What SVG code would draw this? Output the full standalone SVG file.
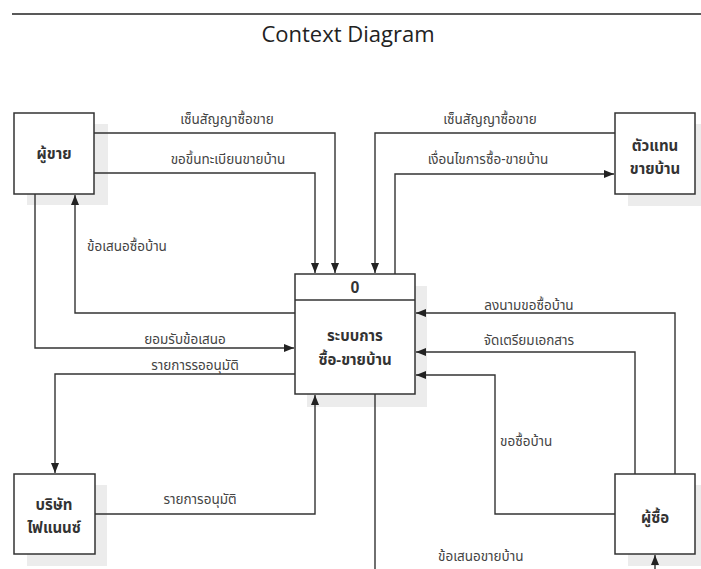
<svg xmlns="http://www.w3.org/2000/svg" width="701" height="569" viewBox="0 0 701 569">
<defs>
<marker id="arr" markerUnits="userSpaceOnUse" markerWidth="11" markerHeight="9" refX="10" refY="4" orient="auto">
<path d="M0,0 L10,4 L0,8 z" fill="#222"/>
</marker>
<style>
.shadow{fill:#ececec;stroke:none}
.box{fill:#fff;stroke:#333;stroke-width:1.5}
.conn{fill:none;stroke:#333;stroke-width:1.4}
.lbl{font-family:"Noto Sans Thai","Tahoma","Liberation Sans",sans-serif;font-size:13.5px;fill:#444}
.nlbl{font-family:"Noto Sans Thai","Tahoma","Liberation Sans",sans-serif;font-size:15px;font-weight:bold;fill:#333;text-anchor:middle}
.title{font-family:"Open Sans","Liberation Sans",sans-serif;font-size:22px;fill:#222;text-anchor:middle}
</style>
</defs>
<rect width="701" height="569" fill="#fff"/>
<line x1="12" y1="14" x2="701" y2="14" stroke="#222" stroke-width="1.5"/>
<text class="title" x="348" y="42">Context Diagram</text>

<g id="seller">
<rect class="shadow" x="27" y="124" width="81" height="81"/>
<rect class="box" x="14" y="113" width="80" height="81"/>
<text class="nlbl" x="54" y="159">ผู้ขาย</text>
</g>

<g id="agent">
<rect class="shadow" x="628" y="124" width="73" height="82"/>
<rect class="box" x="615" y="113" width="80" height="81"/>
<text class="nlbl" x="655" y="151">ตัวแทน</text>
<text class="nlbl" x="655" y="174">ขายบ้าน</text>
</g>

<g id="process">
<rect class="shadow" x="307" y="286" width="120" height="121"/>
<rect class="box" x="295" y="274" width="120" height="120"/>
<line x1="295" y1="300" x2="415" y2="300" stroke="#333" stroke-width="1.5"/>
<text class="nlbl" x="355" y="293" style="font-family:'Liberation Sans',sans-serif;font-size:16px">0</text>
<text class="nlbl" x="355" y="341">ระบบการ</text>
<text class="nlbl" x="355" y="365">ซื้อ-ขายบ้าน</text>
</g>

<g id="finance">
<rect class="shadow" x="27" y="485" width="80" height="81"/>
<rect class="box" x="14" y="474" width="81" height="80"/>
<text class="nlbl" x="54" y="510">บริษัท</text>
<text class="nlbl" x="54" y="533">ไฟแนนซ์</text>
</g>

<g id="buyer">
<rect class="shadow" x="628" y="485" width="73" height="81"/>
<rect class="box" x="615" y="474" width="80" height="80"/>
<text class="nlbl" x="655" y="523">ผู้ซื้อ</text>
</g>

<g id="connectors">
<path class="conn" d="M94,133 H335 V273" marker-end="url(#arr)"/>
<path class="conn" d="M94,173 H315 V273" marker-end="url(#arr)"/>
<path class="conn" d="M295,313 H75 V195" marker-end="url(#arr)"/>
<path class="conn" d="M35,194 V348 H294" marker-end="url(#arr)"/>
<path class="conn" d="M295,374 H55 V473" marker-end="url(#arr)"/>
<path class="conn" d="M95,514 H315 V395" marker-end="url(#arr)"/>
<path class="conn" d="M615,133 H375 V273" marker-end="url(#arr)"/>
<path class="conn" d="M395,274 V174 H614" marker-end="url(#arr)"/>
<path class="conn" d="M675,474 V313 H416" marker-end="url(#arr)"/>
<path class="conn" d="M635,474 V352 H416" marker-end="url(#arr)"/>
<path class="conn" d="M615,514 H495 V375 H416" marker-end="url(#arr)"/>
<path class="conn" d="M375,394 V575"/>
<path class="conn" d="M655,580 V555" marker-end="url(#arr)"/>
<text class="lbl" x="227" y="124" text-anchor="middle">เซ็นสัญญาซื้อขาย</text>
<text class="lbl" x="228" y="164" text-anchor="middle">ขอขึ้นทะเบียนขายบ้าน</text>
<text class="lbl" x="87" y="251">ข้อเสนอซื้อบ้าน</text>
<text class="lbl" x="185" y="344" text-anchor="middle">ยอมรับข้อเสนอ</text>
<text class="lbl" x="195" y="370" text-anchor="middle">รายการรออนุมัติ</text>
<text class="lbl" x="200" y="504" text-anchor="middle">รายการอนุมัติ</text>
<text class="lbl" x="490" y="124" text-anchor="middle">เซ็นสัญญาซื้อขาย</text>
<text class="lbl" x="488" y="164" text-anchor="middle">เงื่อนไขการซื้อ-ขายบ้าน</text>
<text class="lbl" x="529" y="310" text-anchor="middle">ลงนามขอซื้อบ้าน</text>
<text class="lbl" x="529" y="345" text-anchor="middle">จัดเตรียมเอกสาร</text>
<text class="lbl" x="500" y="446">ขอซื้อบ้าน</text>
<text class="lbl" x="438" y="561">ข้อเสนอขายบ้าน</text>
</g>
</svg>
